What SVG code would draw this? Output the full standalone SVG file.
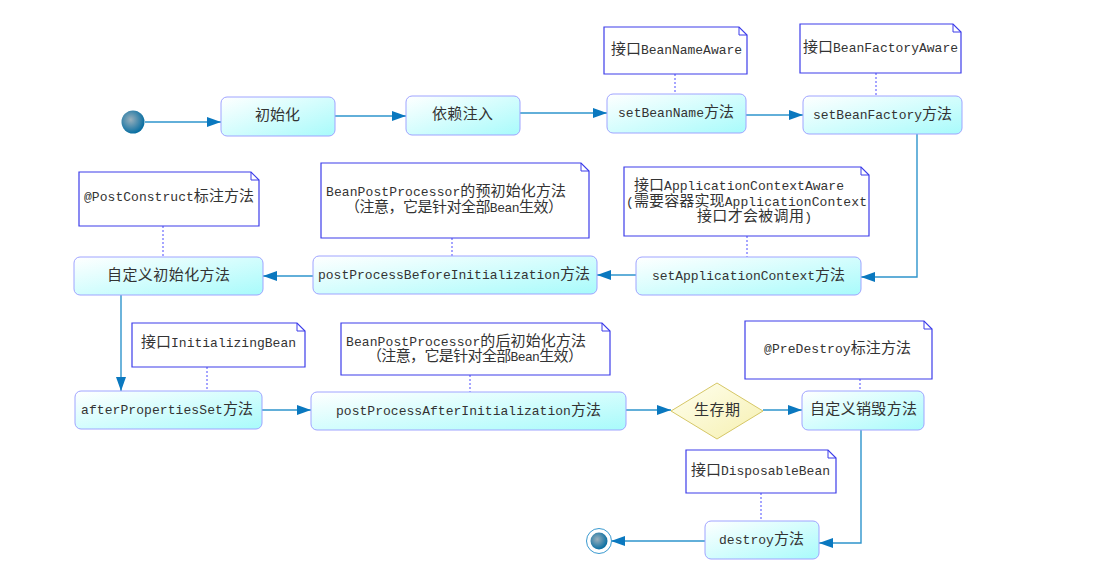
<svg xmlns="http://www.w3.org/2000/svg" width="1093" height="566" viewBox="0 0 1093 566">
<defs>
<linearGradient id="gBox" x1="0" y1="0" x2="1" y2="1">
<stop offset="0" stop-color="#ffffff"/>
<stop offset="1" stop-color="#a8fbfb"/>
</linearGradient>
<linearGradient id="gDia" x1="0" y1="0" x2="1" y2="1">
<stop offset="0" stop-color="#fffff0"/>
<stop offset="1" stop-color="#f6f0b0"/>
</linearGradient>
<radialGradient id="gDot" cx="0.4" cy="0.4" r="0.6">
<stop offset="0" stop-color="#9ab0bc"/>
<stop offset="1" stop-color="#0a6fa2"/>
</radialGradient>
<marker id="ah" viewBox="0 0 14 10" refX="14" refY="5" markerWidth="14" markerHeight="10" markerUnits="userSpaceOnUse" orient="auto">
<path d="M0,0 L14,5 L0,10 Z" fill="#0a78bf"/>
</marker>
<style>
.box{fill:url(#gBox);stroke:#9fa4ff;stroke-width:1}
.note{fill:#ffffff;stroke:#3d3dea;stroke-width:1.2}
.fold{fill:none;stroke:#3d3dea;stroke-width:1}
.t{font-family:"Liberation Mono","Noto Sans CJK SC",monospace;font-size:13px;fill:#333333;dominant-baseline:central}
.c{font-size:15px}
.edge{fill:none;stroke:#2e94cc;stroke-width:1.4;marker-end:url(#ah)}
.dot{fill:none;stroke:#6a6aff;stroke-width:1.2;stroke-dasharray:2 2}
</style>
</defs>

<g id="connectors">
<path class="edge" d="M145,122 H221"/>
<path class="edge" d="M335,116 H406"/>
<path class="edge" d="M520,113 H607"/>
<path class="edge" d="M746,115 H803"/>
<path class="edge" d="M917,134 V277 H861"/>
<path class="edge" d="M636,275 H597"/>
<path class="edge" d="M313,276 H263"/>
<path class="edge" d="M121,295 V391"/>
<path class="edge" d="M262,410 H311"/>
<path class="edge" d="M626,410 H671"/>
<path class="edge" d="M763,410 H802"/>
<path class="edge" d="M861,430 V543 H819"/>
<path class="edge" d="M705,541 H611"/>
<path class="dot" d="M675,74 V94"/>
<path class="dot" d="M876,73 V96"/>
<path class="dot" d="M163,226 V257"/>
<path class="dot" d="M452,238 V256"/>
<path class="dot" d="M747,236 V257"/>
<path class="dot" d="M207,367 V391"/>
<path class="dot" d="M470,375 V392"/>
<path class="dot" d="M860,379 V391"/>
<path class="dot" d="M761,493 V521"/>
</g>

<g id="start"><circle cx="133" cy="122" r="11.5" fill="url(#gDot)"/></g>
<g id="end">
<circle cx="599" cy="541" r="12.5" fill="#ffffff" stroke="#3a9ad0" stroke-width="1"/>
<circle cx="599" cy="541" r="8.5" fill="url(#gDot)"/>
</g>

<g id="n-init"><rect class="box" x="221" y="97" width="114" height="39" rx="6"/><text class="t c" x="255" y="116" textLength="45" lengthAdjust="spacing">初始化</text></g>
<g id="n-di"><rect class="box" x="406" y="96" width="114" height="39" rx="6"/><text class="t c" x="432" y="115" textLength="61" lengthAdjust="spacing">依赖注入</text></g>
<g id="n-setBeanName"><rect class="box" x="607" y="94" width="139" height="39" rx="6"/><text class="t" x="618" y="113" textLength="116" lengthAdjust="spacing">setBeanName<tspan class="c">方法</tspan></text></g>
<g id="n-setBeanFactory"><rect class="box" x="803" y="96" width="159" height="38" rx="6"/><text class="t" x="813" y="115" textLength="139" lengthAdjust="spacing">setBeanFactory<tspan class="c">方法</tspan></text></g>
<g id="n-initMethod"><rect class="box" x="74" y="257" width="189" height="38" rx="6"/><text class="t c" x="107" y="276" textLength="123" lengthAdjust="spacing">自定义初始化方法</text></g>
<g id="n-before"><rect class="box" x="313" y="256" width="284" height="38" rx="6"/><text class="t" x="318" y="275" textLength="272" lengthAdjust="spacing">postProcessBeforeInitialization<tspan class="c">方法</tspan></text></g>
<g id="n-setAppCtx"><rect class="box" x="636" y="257" width="225" height="38" rx="6"/><text class="t" x="652" y="276" textLength="193" lengthAdjust="spacing">setApplicationContext<tspan class="c">方法</tspan></text></g>
<g id="n-afterProps"><rect class="box" x="75" y="391" width="187" height="38" rx="6"/><text class="t" x="81" y="410" textLength="172" lengthAdjust="spacing">afterPropertiesSet<tspan class="c">方法</tspan></text></g>
<g id="n-after"><rect class="box" x="311" y="392" width="315" height="38" rx="6"/><text class="t" x="336" y="411" textLength="265" lengthAdjust="spacing">postProcessAfterInitialization<tspan class="c">方法</tspan></text></g>
<g id="n-life"><path d="M717,383 L763,411 L717,439 L671,411 Z" fill="url(#gDia)" stroke="#d6c766" stroke-width="1"/><text class="t c" x="694" y="411" textLength="46" lengthAdjust="spacing">生存期</text></g>
<g id="n-destroyMethod"><rect class="box" x="802" y="391" width="122" height="39" rx="6"/><text class="t c" x="810" y="410" textLength="107" lengthAdjust="spacing">自定义销毁方法</text></g>
<g id="n-destroy"><rect class="box" x="705" y="521" width="114" height="38" rx="6"/><text class="t" x="719" y="540" textLength="85" lengthAdjust="spacing">destroy<tspan class="c">方法</tspan></text></g>

<g id="note-BeanNameAware"><path class="note" d="M604,27 H739 L747,35 V74 H604 Z"/><path class="fold" d="M739,27 V35 H747"/><text class="t" x="611" y="50" textLength="131" lengthAdjust="spacing"><tspan class="c">接口</tspan>BeanNameAware</text></g>
<g id="note-BeanFactoryAware"><path class="note" d="M800,24 H953 L961,32 V73 H800 Z"/><path class="fold" d="M953,24 V32 H961"/><text class="t" x="803" y="48" textLength="155" lengthAdjust="spacing"><tspan class="c">接口</tspan>BeanFactoryAware</text></g>
<g id="note-PostConstruct"><path class="note" d="M79,172 H251 L259,180 V226 H79 Z"/><path class="fold" d="M251,172 V180 H259"/><text class="t" x="84" y="197" textLength="170" lengthAdjust="spacing">@PostConstruct<tspan class="c">标注方法</tspan></text></g>
<g id="note-bppBefore"><path class="note" d="M321,163 H581 L589,171 V238 H321 Z"/><path class="fold" d="M581,163 V171 H589"/><text class="t" x="326" y="192" textLength="240" lengthAdjust="spacing">BeanPostProcessor<tspan class="c">的预初始化方法</tspan></text><text class="t" x="345" y="208" textLength="218" lengthAdjust="spacing"><tspan class="c">（注意，它是针对全部</tspan>Bean<tspan class="c">生效）</tspan></text></g>
<g id="note-AppCtxAware"><path class="note" d="M624,167 H861 L869,175 V236 H624 Z"/><path class="fold" d="M861,167 V175 H869"/><text class="t" x="634" y="186" textLength="210" lengthAdjust="spacing"><tspan class="c">接口</tspan>ApplicationContextAware</text><text class="t" x="626" y="202" textLength="241" lengthAdjust="spacing">(<tspan class="c">需要容器实现</tspan>ApplicationContext</text><text class="t" x="697" y="217" textLength="115" lengthAdjust="spacing"><tspan class="c">接口才会被调用</tspan>)</text></g>
<g id="note-InitializingBean"><path class="note" d="M132,323 H297 L305,331 V367 H132 Z"/><path class="fold" d="M297,323 V331 H305"/><text class="t" x="141" y="343" textLength="155" lengthAdjust="spacing"><tspan class="c">接口</tspan>InitializingBean</text></g>
<g id="note-bppAfter"><path class="note" d="M341,323 H602 L610,331 V375 H341 Z"/><path class="fold" d="M602,323 V331 H610"/><text class="t" x="346" y="342" textLength="240" lengthAdjust="spacing">BeanPostProcessor<tspan class="c">的后初始化方法</tspan></text><text class="t" x="367" y="357" textLength="216" lengthAdjust="spacing"><tspan class="c">（注意，它是针对全部</tspan>Bean<tspan class="c">生效）</tspan></text></g>
<g id="note-PreDestroy"><path class="note" d="M745,321 H924 L932,329 V379 H745 Z"/><path class="fold" d="M924,321 V329 H932"/><text class="t" x="764" y="349" textLength="147" lengthAdjust="spacing">@PreDestroy<tspan class="c">标注方法</tspan></text></g>
<g id="note-DisposableBean"><path class="note" d="M686,450 H828 L836,458 V493 H686 Z"/><path class="fold" d="M828,450 V458 H836"/><text class="t" x="691" y="471" textLength="139" lengthAdjust="spacing"><tspan class="c">接口</tspan>DisposableBean</text></g>
</svg>
